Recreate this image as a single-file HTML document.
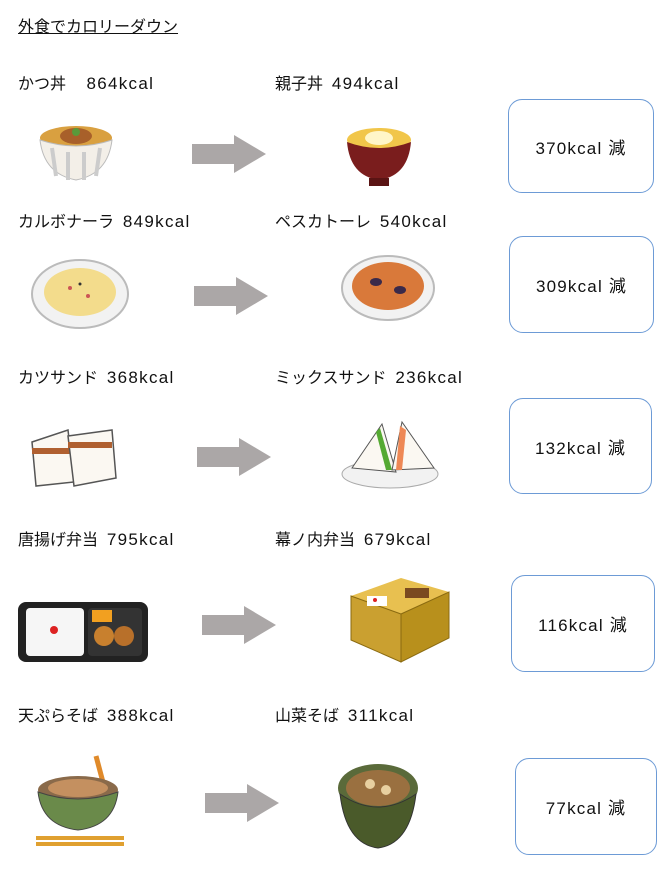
<!DOCTYPE html>
<html><head><meta charset="utf-8">
<style>
html,body{margin:0;padding:0;background:#fff;}
body{width:668px;height:876px;position:relative;overflow:hidden;font-family:"Liberation Sans","Noto Sans CJK JP",sans-serif;color:#111;}
.t{position:absolute;font-size:16px;white-space:nowrap;line-height:20px;}
.k{font-size:17px;letter-spacing:1.3px;}
.box{position:absolute;border:1.5px solid #6d9bd6;border-radius:14px;box-sizing:border-box;display:flex;align-items:center;justify-content:center;font-size:17px;letter-spacing:1.2px;}
svg{position:absolute;}
</style></head><body>
<div class="t" style="left:18px;top:18px;text-decoration:underline;">外食でカロリーダウン</div>

<!-- row1 -->
<div class="t" style="left:18px;top:74px;">かつ丼　&nbsp;<span class="k">864kcal</span></div>
<div class="t" style="left:275px;top:74px;">親子丼&nbsp; <span class="k">494kcal</span></div>
<svg style="left:38px;top:118px" width="76" height="70"><ellipse cx="38" cy="20" rx="36" ry="12" fill="#d9a040"/><path d="M2 22 Q38 34 74 22 Q70 56 38 62 Q6 56 2 22Z" fill="#f3efe8" stroke="#bbb"/><path d="M14 30 L18 58 M30 34 L30 62 M46 34 L46 62 M62 30 L58 58" stroke="#ccc" stroke-width="4"/><ellipse cx="38" cy="18" rx="16" ry="8" fill="#a8602a"/><circle cx="38" cy="14" r="4" fill="#5a9a3a"/></svg>
<svg style="left:192px;top:135px" width="74" height="38"><rect x="0" y="9" width="44" height="20" fill="#aba7a7"/><polygon points="42,0 74,19 42,38" fill="#aba7a7"/></svg>
<svg style="left:344px;top:118px" width="70" height="72"><ellipse cx="35" cy="22" rx="32" ry="12" fill="#f1c64a"/><ellipse cx="35" cy="20" rx="14" ry="7" fill="#fff6c8"/><path d="M3 24 Q35 36 67 24 Q64 58 35 62 Q6 58 3 24Z" fill="#7a1d1d"/><rect x="25" y="60" width="20" height="8" fill="#5a1414"/></svg>
<div class="box" style="left:508px;top:99px;width:146px;height:94px;">370kcal 減</div>

<!-- row2 -->
<div class="t" style="left:18px;top:212px;">カルボナーラ&nbsp; <span class="k">849kcal</span></div>
<div class="t" style="left:275px;top:212px;">ペスカトーレ&nbsp; <span class="k">540kcal</span></div>
<svg style="left:30px;top:258px" width="100" height="72"><ellipse cx="50" cy="36" rx="48" ry="34" fill="#f2f2f2" stroke="#bbb" stroke-width="2"/><ellipse cx="50" cy="34" rx="36" ry="24" fill="#f3dc8c"/><circle cx="40" cy="30" r="2" fill="#c55"/><circle cx="58" cy="38" r="2" fill="#c55"/><circle cx="50" cy="26" r="1.5" fill="#333"/></svg>
<svg style="left:194px;top:277px" width="74" height="38"><rect x="0" y="9" width="44" height="20" fill="#aba7a7"/><polygon points="42,0 74,19 42,38" fill="#aba7a7"/></svg>
<svg style="left:340px;top:252px" width="96" height="72"><ellipse cx="48" cy="36" rx="46" ry="32" fill="#f2f2f2" stroke="#bbb" stroke-width="2"/><ellipse cx="48" cy="34" rx="36" ry="24" fill="#d9793a"/><ellipse cx="36" cy="30" rx="6" ry="4" fill="#3a2a4a"/><ellipse cx="60" cy="38" rx="6" ry="4" fill="#3a2a4a"/></svg>
<div class="box" style="left:509px;top:236px;width:145px;height:97px;">309kcal 減</div>

<!-- row3 -->
<div class="t" style="left:18px;top:368px;">カツサンド&nbsp; <span class="k">368kcal</span></div>
<div class="t" style="left:275px;top:368px;">ミックスサンド&nbsp; <span class="k">236kcal</span></div>
<svg style="left:28px;top:420px" width="90" height="70"><path d="M4 22 L40 10 L46 62 L8 66Z" fill="#fbf8f2" stroke="#555" stroke-width="1.5"/><rect x="4" y="28" width="40" height="6" fill="#b06030"/><path d="M40 16 L84 10 L88 58 L46 66Z" fill="#fbf8f2" stroke="#555" stroke-width="1.5"/><rect x="40" y="22" width="44" height="6" fill="#b06030"/></svg>
<svg style="left:197px;top:438px" width="74" height="38"><rect x="0" y="9" width="44" height="20" fill="#aba7a7"/><polygon points="42,0 74,19 42,38" fill="#aba7a7"/></svg>
<svg style="left:340px;top:418px" width="100" height="72"><ellipse cx="50" cy="56" rx="48" ry="14" fill="#f2f2f2" stroke="#aaa"/><polygon points="12,50 42,6 56,54" fill="#fbf8f2" stroke="#555"/><polygon points="52,52 62,4 94,50" fill="#fbf8f2" stroke="#555"/><polygon points="40,10 52,52 46,52 36,14" fill="#5a3"/><polygon points="60,8 56,52 62,52 66,12" fill="#e85"/></svg>
<div class="box" style="left:509px;top:398px;width:143px;height:96px;">132kcal 減</div>

<!-- row4 -->
<div class="t" style="left:18px;top:530px;">唐揚げ弁当&nbsp; <span class="k">795kcal</span></div>
<div class="t" style="left:275px;top:530px;">幕ノ内弁当&nbsp; <span class="k">679kcal</span></div>
<svg style="left:16px;top:600px" width="134" height="64"><rect x="2" y="2" width="130" height="60" rx="8" fill="#222"/><rect x="10" y="8" width="58" height="48" rx="4" fill="#f6f6f6"/><circle cx="38" cy="30" r="4" fill="#d22"/><rect x="72" y="8" width="54" height="48" rx="4" fill="#333"/><circle cx="88" cy="36" r="10" fill="#c8802e"/><circle cx="108" cy="36" r="10" fill="#b8702a"/><rect x="76" y="10" width="20" height="12" fill="#f2a020"/></svg>
<svg style="left:202px;top:606px" width="74" height="38"><rect x="0" y="9" width="44" height="20" fill="#aba7a7"/><polygon points="42,0 74,19 42,38" fill="#aba7a7"/></svg>
<svg style="left:345px;top:574px" width="110" height="90"><polygon points="6,22 56,4 104,18 56,40" fill="#e8c050"/><polygon points="6,22 56,40 56,88 6,66" fill="#caa030" stroke="#8a6a10"/><polygon points="56,40 104,18 104,64 56,88" fill="#b8901c" stroke="#8a6a10"/><rect x="22" y="22" width="20" height="10" fill="#fff"/><circle cx="30" cy="26" r="2" fill="#d22"/><rect x="60" y="14" width="24" height="10" fill="#7a4a20"/></svg>
<div class="box" style="left:511px;top:575px;width:144px;height:97px;">116kcal 減</div>

<!-- row5 -->
<div class="t" style="left:18px;top:706px;">天ぷらそば&nbsp; <span class="k">388kcal</span></div>
<div class="t" style="left:275px;top:706px;">山菜そば&nbsp; <span class="k">311kcal</span></div>
<svg style="left:32px;top:752px" width="96" height="98"><path d="M64 4 L72 34" stroke="#e08a2a" stroke-width="5"/><ellipse cx="46" cy="38" rx="40" ry="14" fill="#8a6a4a"/><ellipse cx="46" cy="36" rx="30" ry="9" fill="#c49060"/><path d="M6 40 Q46 54 86 40 Q82 74 46 78 Q10 74 6 40Z" fill="#6a8a4a" stroke="#444"/><rect x="4" y="84" width="88" height="4" fill="#e0a030"/><rect x="4" y="90" width="88" height="4" fill="#e0a030"/></svg>
<svg style="left:205px;top:784px" width="74" height="38"><rect x="0" y="9" width="44" height="20" fill="#aba7a7"/><polygon points="42,0 74,19 42,38" fill="#aba7a7"/></svg>
<svg style="left:336px;top:760px" width="84" height="96"><ellipse cx="42" cy="28" rx="40" ry="24" fill="#5a6a3a"/><ellipse cx="42" cy="28" rx="32" ry="18" fill="#9a7040"/><circle cx="34" cy="24" r="5" fill="#e8d0a0"/><circle cx="50" cy="30" r="5" fill="#e8d0a0"/><path d="M4 34 Q42 60 80 34 Q74 84 42 88 Q10 84 4 34Z" fill="#4a5a2a" stroke="#333"/></svg>
<div class="box" style="left:515px;top:758px;width:142px;height:97px;">77kcal 減</div>
</body></html>
